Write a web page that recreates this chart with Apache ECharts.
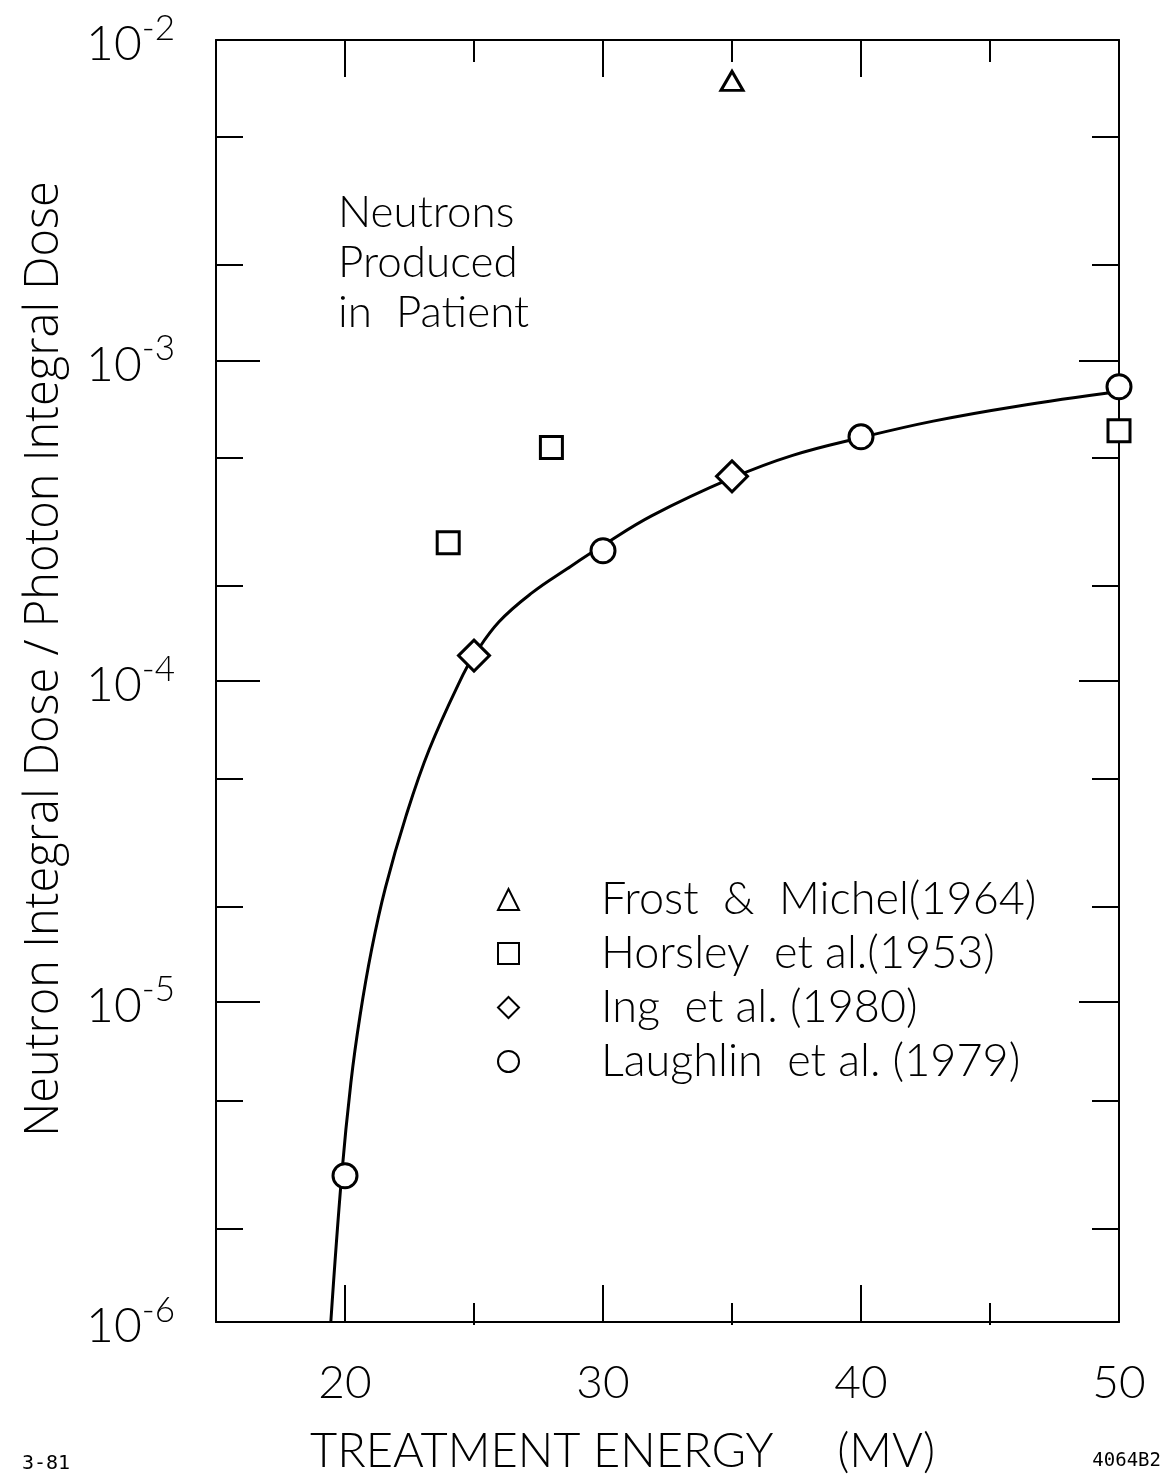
<!DOCTYPE html>
<html>
<head>
<meta charset="utf-8">
<title>Neutron Integral Dose / Photon Integral Dose</title>
<script src="https://cdn.jsdelivr.net/npm/echarts@6/dist/echarts.min.js"></script>
<style>
html, body { margin: 0; padding: 0; background: #fff; }
#main { width: 1169px; height: 1480px; }
</style>
</head>
<body>
<div id="main"></div>
<script>
// measured points, x = treatment energy (MV), y = dose ratio
var frostX = [35];
var frostY = [7.45e-3];
var horsleyX = [24, 28, 50];
var horsleyY = [2.70e-4, 5.35e-4, 6.04e-4];
var ingX = [25, 35];
var ingY = [1.20e-4, 4.35e-4];
var laughlinX = [20, 30, 40, 50];
var laughlinY = [2.86e-6, 2.55e-4, 5.78e-4, 8.28e-4];

// hand drawn curve through the points
var curveX = [19.45, 19.87, 20.23, 20.58, 21.03, 21.57, 22.36, 23.26, 24.57, 25.0, 25.97, 27.27, 28.61, 30.0, 31.9, 35.0, 37.35, 40.0, 42.8, 46.0, 50.0];
var curveY = [1.0e-6, 2.86e-6, 5.6e-6, 9.0e-6, 1.45e-5, 2.27e-5, 3.78e-5, 6.1e-5, 1.045e-4, 1.2e-4, 1.53e-4, 1.89e-4, 2.24e-4, 2.65e-4, 3.28e-4, 4.3e-4, 5.06e-4, 5.75e-4, 6.47e-4, 7.19e-4, 8.0e-4];

// ticks
var majorX = [20, 30, 40, 50];
var minorX = [25, 35, 45];
var decadesY = [1e-6, 1e-5, 1e-4, 1e-3, 1e-2];
var minorY = [2e-6, 5e-6, 2e-5, 5e-5, 2e-4, 5e-4, 2e-3, 5e-3];

var seriesNames = ['Frost  &  Michel(1964)', 'Horsley  et al.(1953)', 'Ing  et al. (1980)', 'Laughlin  et al. (1979)'];

var FONT = 'Lato, "DejaVu Sans", sans-serif';
var WIDE_FONT = '"Open Sans", Lato, "DejaVu Sans", sans-serif';
var BLACK = '#000';
var frameLine = { color: BLACK, width: 2 };

function toPairs(xs, ys) {
	var out = [];
	for (var i = 0; i < xs.length; i++) {
		out.push([xs[i], ys[i]]);
	}
	return out;
}

// one x axis, grid 0 has the frame + major ticks, grid 1 only minor ticks
function makeX(gridIndex, position, ticks, len, withLabel) {
	return {
		gridIndex: gridIndex,
		type: 'value',
		position: position,
		min: 15,
		max: 50,
		axisLine: { show: gridIndex == 0, onZero: false, lineStyle: frameLine },
		axisTick: { show: true, inside: true, length: len, customValues: ticks, lineStyle: frameLine },
		axisLabel: withLabel ? {
			show: true,
			customValues: ticks,
			margin: 38,
			color: BLACK,
			fontFamily: FONT,
			fontWeight: 300,
			fontSize: 46
		} : { show: false },
		splitLine: { show: false }
	};
}

function makeY(gridIndex, position, ticks, len, withLabel) {
	return {
		gridIndex: gridIndex,
		type: 'log',
		logBase: 10,
		position: position,
		min: 1e-6,
		max: 1e-2,
		axisLine: { show: gridIndex == 0, onZero: false, lineStyle: frameLine },
		axisTick: { show: true, inside: true, length: len, customValues: ticks, lineStyle: frameLine },
		axisLabel: withLabel ? {
			show: true,
			customValues: ticks,
			margin: 41,
			formatter: function (v) {
				var e = Math.round(Math.log(v) / Math.LN10);
				return '{b|10}{e|' + e + '}';
			},
			rich: {
				b: { fontFamily: FONT, fontWeight: 300, fontSize: 48, color: BLACK, lineHeight: 58, verticalAlign: 'bottom' },
				e: { fontFamily: FONT, fontWeight: 300, fontSize: 35, color: BLACK, lineHeight: 34, verticalAlign: 'top' }
			}
		} : { show: false },
		splitLine: { show: false }
	};
}

function scatter(name, xs, ys, symbol, size) {
	return {
		name: name,
		type: 'scatter',
		xAxisIndex: 0,
		yAxisIndex: 0,
		symbol: symbol,
		symbolSize: size,
		clip: false,
		z: 5,
		itemStyle: { color: '#fff', borderColor: BLACK, borderWidth: 3, opacity: 1 },
		data: toPairs(xs, ys)
	};
}

var xName = makeX(0, 'bottom', majorX, 37, true);
xName.name = 'TREATMENT ENERGY     (MV)';
xName.nameLocation = 'middle';
xName.nameGap = 106;
xName.nameTextStyle = { fontFamily: FONT, fontWeight: 300, fontSize: 47, color: BLACK, padding: [0, 90, 0, 0] };

var yName = makeY(0, 'left', decadesY, 44, true);
yName.name = 'Neutron Integral Dose / Photon Integral Dose';
yName.nameLocation = 'middle';
yName.nameGap = 148;
yName.nameTextStyle = { fontFamily: WIDE_FONT, fontWeight: 300, fontSize: 47, color: BLACK, padding: [0, 0, 0, 44] };

var option = {
	backgroundColor: '#fff',
	animation: false,
	grid: [
		{ left: 216, right: 50, top: 40, bottom: 155 },
		{ left: 216, right: 50, top: 40, bottom: 155 }
	],
	xAxis: [
		xName,
		makeX(0, 'top', majorX, 37, false),
		makeX(1, 'bottom', minorX, 22, false),
		makeX(1, 'top', minorX, 22, false)
	],
	yAxis: [
		yName,
		makeY(0, 'right', decadesY, 40, false),
		makeY(1, 'left', minorY, 27, false),
		makeY(1, 'right', minorY, 27, false)
	],
	legend: {
		data: [
			{ name: seriesNames[0], icon: 'triangle' },
			{ name: seriesNames[1], icon: 'rect' },
			{ name: seriesNames[2], icon: 'diamond' },
			{ name: seriesNames[3], icon: 'circle' }
		],
		orient: 'vertical',
		left: 497,
		top: 877,
		padding: 0,
		itemWidth: 21,
		itemHeight: 21,
		itemGap: 9,
		selectedMode: false,
		textStyle: { fontFamily: FONT, fontWeight: 300, fontSize: 45, color: BLACK, padding: [0, 0, 0, 77] }
	},
	graphic: [
		{
			type: 'text',
			left: 338,
			top: 188,
			style: { text: 'Neutrons\nProduced\nin  Patient', font: '300 44px ' + FONT, lineHeight: 50, fill: BLACK }
		},
		{
			type: 'text',
			left: 22,
			top: 1454,
			style: { text: '3-81', font: '20px "DejaVu Sans Mono", monospace', fill: BLACK }
		},
		{
			type: 'text',
			right: 8,
			top: 1452,
			style: { text: '4064B2', font: '19px "DejaVu Sans Mono", monospace', fill: BLACK }
		}
	],
	series: [
		{
			name: 'curve',
			type: 'line',
			xAxisIndex: 0,
			yAxisIndex: 0,
			smooth: 0.4,
			showSymbol: false,
			symbol: 'none',
			z: 3,
			lineStyle: { color: BLACK, width: 3 },
			data: toPairs(curveX, curveY)
		},
		scatter(seriesNames[0], frostX, frostY, 'triangle', [22, 19]),
		scatter(seriesNames[1], horsleyX, horsleyY, 'rect', 22),
		scatter(seriesNames[2], ingX, ingY, 'diamond', 31),
		scatter(seriesNames[3], laughlinX, laughlinY, 'circle', 24)
	]
};

var chart = echarts.init(document.getElementById('main'), null, { renderer: 'canvas' });
chart.setOption(option);
</script>
</body>
</html>
